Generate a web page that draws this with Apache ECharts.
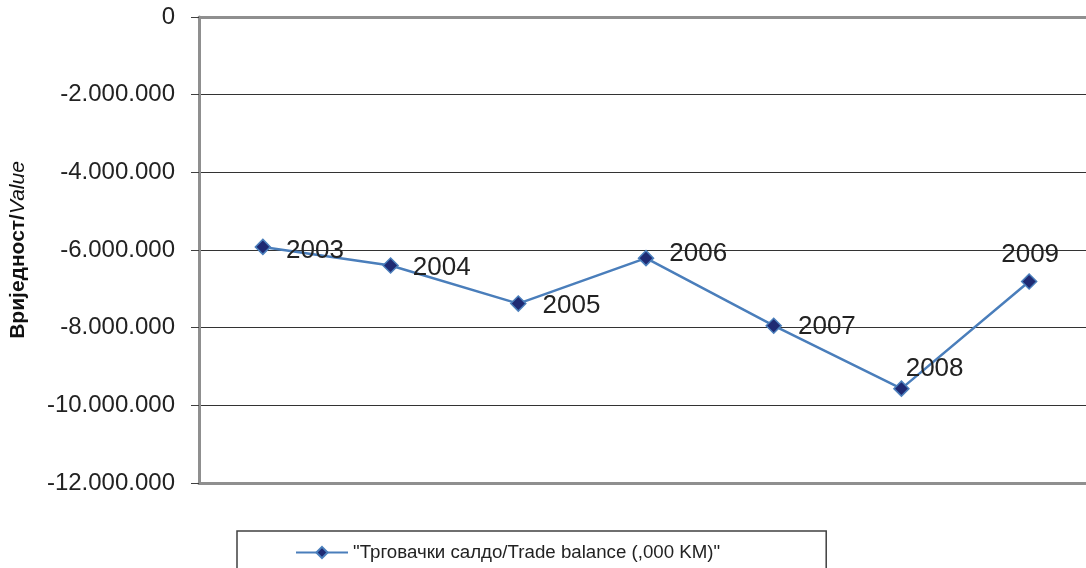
<!DOCTYPE html>
<html>
<head>
<meta charset="utf-8">
<script src="https://cdn.jsdelivr.net/npm/echarts@6/dist/echarts.min.js"></script>
<style>
  html, body { margin: 0; padding: 0; background: #fff; }
  #chart { width: 1086px; height: 568px; }
</style>
</head>
<body>
<div id="chart"></div>
<script>
// години
const years = ['2003', '2004', '2005', '2006', '2007', '2008', '2009'];
// трговачки салдо (,000 KM)
const balance = [-5920000, -6400000, -7380000, -6210000, -7950000, -9570000, -6810000];
const seriesName = '"Трговачки салдо/Trade balance (,000 KM)"';

// положај натписа за сваку тачку
const labelPlace = [
  { position: 'right', distance: 15, offset: [0, 4] },
  { position: 'right', distance: 14, offset: [0, 2] },
  { position: 'right', distance: 16, offset: [0, 2] },
  { position: 'right', distance: 15, offset: [0, -4] },
  { position: 'right', distance: 16, offset: [0, 1] },
  { position: 'right', distance: -4, offset: [0, -20] },
  { position: 'top', distance: 5, offset: [1, 0] }
];

// 1.000.000 формат
function fmt(v) {
  const s = Math.abs(v).toString().replace(/\B(?=(\d{3})+(?!\d))/g, '.');
  return v < 0 ? '-' + s : s;
}

const myChart = echarts.init(document.getElementById('chart'));
const option = {
  animation: false,
  textStyle: { fontFamily: 'Liberation Sans, Arial, sans-serif' },
  grid: { left: 199, top: 17, width: 894, height: 466, containLabel: false, outerBoundsMode: 'none' },
  legend: {
    left: 237,
    top: 531,
    padding: [12, 106, 20, 58],
    borderColor: '#404040',
    borderWidth: 1.5,
    itemWidth: 52,
    itemHeight: 14,
    textStyle: { fontSize: 18.7, color: '#222' },
    data: [seriesName]
  },
  xAxis: [
    {
      type: 'category',
      data: years,
      boundaryGap: true,
      axisLine: { onZero: true, lineStyle: { color: '#8f8f8f', width: 3 } },
      axisTick: { show: false },
      axisLabel: { show: false }
    },
    {
      type: 'category',
      data: years,
      position: 'bottom',
      axisLine: { onZero: false, lineStyle: { color: '#8f8f8f', width: 3 } },
      axisTick: { show: false },
      axisLabel: { show: false }
    }
  ],
  yAxis: {
    type: 'value',
    min: -12000000,
    max: 0,
    interval: 2000000,
    name: '{b|Вриједност/}{i|Value}',
    nameLocation: 'middle',
    nameGap: 170,
    nameTextStyle: {
      rich: {
        b: { fontSize: 21, fontWeight: 'bold', color: '#111' },
        i: { fontSize: 21, fontStyle: 'italic', color: '#111' }
      }
    },
    axisLine: { show: true, lineStyle: { color: '#8f8f8f', width: 3 } },
    axisTick: { show: true, inside: false, length: 8, lineStyle: { color: '#404040', width: 1 } },
    axisLabel: { margin: 24, fontSize: 24, color: '#222', formatter: fmt },
    splitLine: { show: true, lineStyle: { color: '#333', width: 1 } }
  },
  series: [
    {
      name: seriesName,
      type: 'line',
      data: balance.map((v, i) => ({
        value: v,
        label: Object.assign({ show: true, formatter: years[i] }, labelPlace[i])
      })),
      symbol: 'diamond',
      symbolSize: 15,
      lineStyle: { color: '#4a7ebb', width: 2.5 },
      itemStyle: { color: '#1f2a73', borderColor: '#4a7ebb', borderWidth: 1.5 },
      label: { fontSize: 26, color: '#222' }
    }
  ]
};
myChart.setOption(option);
window.addEventListener('resize', myChart.resize);
</script>
</body>
</html>
